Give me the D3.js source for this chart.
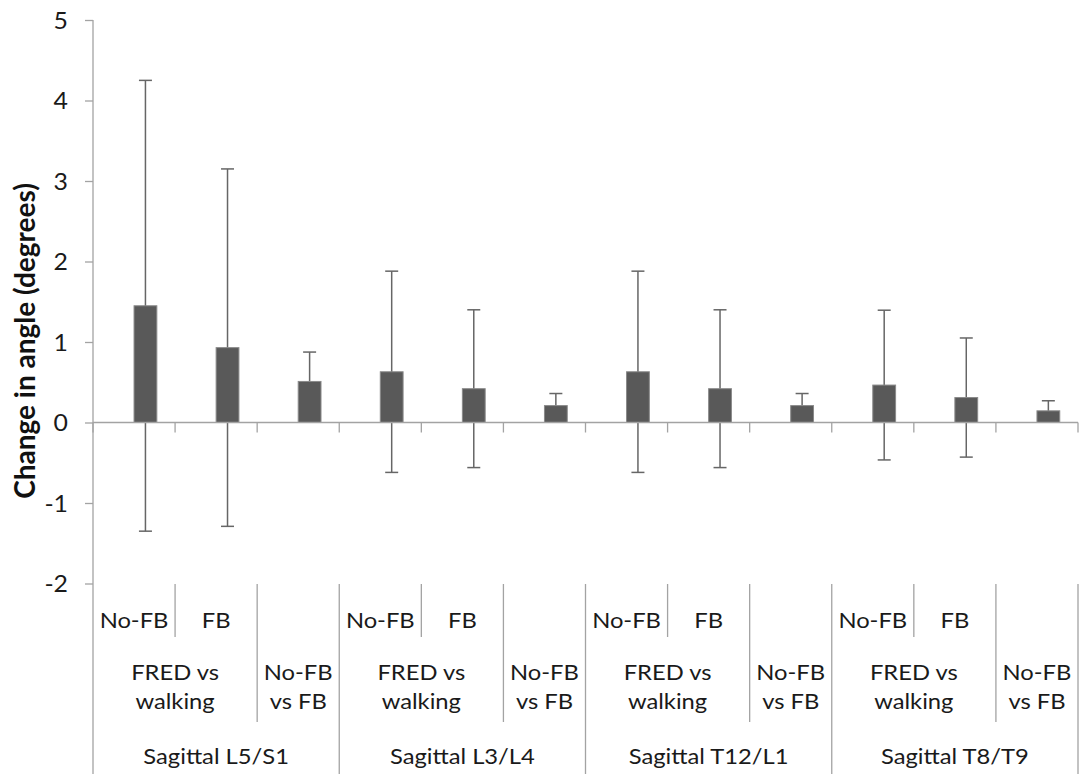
<!DOCTYPE html>
<html>
<head>
<meta charset="utf-8">
<script src="https://cdn.jsdelivr.net/npm/d3@7"></script>
<style>
  html, body { margin: 0; padding: 0; background: #fff; }
  svg { display: block; }
</style>
</head>
<body>
<div id="chart"></div>
<script>
// Spinal segments (outer category level)
const regions = ["Sagittal L5/S1", "Sagittal L3/L4", "Sagittal T12/L1", "Sagittal T8/T9"];
// Comparisons within each segment (middle level, two text lines each)
const comparisonLabels = [["FRED vs", "walking"], ["No-FB", "vs FB"]];
// Conditions inside each comparison (inner level)
const conditionLabels = [["No-FB", "FB"], [""]];
// Mean change in angle (degrees), one per bar, in reading order
const meanChange = [1.45, 0.93, 0.51, 0.63, 0.42, 0.21, 0.63, 0.42, 0.21, 0.465, 0.31, 0.145];
// Error bar half-length (degrees)
const errChange = [2.80, 2.22, 0.365, 1.25, 0.98, 0.15, 1.25, 0.98, 0.15, 0.93, 0.74, 0.125];
const yTicks = [-2, -1, 0, 1, 2, 3, 4, 5];
const yTitle = "Change in angle (degrees)";

const W = 1085, H = 774;
const FONT = "Lato, 'Open Sans', sans-serif";
const FS = 22;      // label font size
const SX = 1.08;    // horizontal text stretch
const AXIS = "#a3a3a3";
const TEXT = "#1a1a1a";

// flatten hierarchy into one category list
const cats = [];
regions.forEach((r, ri) => {
  comparisonLabels.forEach((c, ci) => {
    conditionLabels[ci].forEach((k, ki) => {
      cats.push({ id: `${ri}-${ci}-${ki}`, ri, ci, ki, cond: k });
    });
  });
});
cats.forEach((d, i) => { d.mean = meanChange[i]; d.err = errChange[i]; });

const svg = d3.select("#chart").append("svg").attr("width", W).attr("height", H);
svg.append("rect").attr("width", W).attr("height", H).attr("fill", "#fff");

const x = d3.scaleBand().domain(cats.map(d => d.id)).range([93, 1078]).padding(0);
const y = d3.scaleLinear().domain([-2, 5]).range([583.5, 20]);
// two series slots per category; only the second one carries values
const inner = d3.scaleBand().domain(["blank", "change"]).range([0, x.bandwidth()])
  .paddingInner(0).paddingOuter(0.8);
const bw = inner.bandwidth();
const cx = d => x(d.id) + inner("change") + bw / 2;

// y axis
const yAxis = d3.axisLeft(y).tickValues(yTicks).tickSize(8).tickPadding(0).tickFormat(d => String(d));
const gy = svg.append("g").attr("transform", "translate(93,0)").call(yAxis);
gy.select(".domain").remove();
gy.selectAll(".tick line").attr("stroke", AXIS).attr("stroke-width", 1.3);
gy.selectAll(".tick text")
  .attr("x", null).attr("dy", null)
  .attr("transform", `translate(-25,8) scale(${SX},1)`)
  .attr("text-anchor", "end")
  .attr("font-family", FONT).attr("font-size", 23).attr("fill", TEXT);

// vertical axis line, continuing down through the label area
svg.append("line").attr("x1", 93).attr("x2", 93).attr("y1", y(5)).attr("y2", H)
  .attr("stroke", AXIS).attr("stroke-width", 1.3);

// error bars (drawn beneath the bars)
const eb = svg.append("g").attr("stroke", "#666").attr("stroke-width", 1.5).attr("fill", "none");
cats.forEach(d => {
  const c = cx(d);
  eb.append("line").attr("x1", c).attr("x2", c).attr("y1", y(d.mean + d.err)).attr("y2", y(d.mean - d.err));
  [d.mean + d.err, d.mean - d.err].forEach(v => {
    eb.append("line").attr("x1", c - 6.5).attr("x2", c + 6.5).attr("y1", y(v)).attr("y2", y(v));
  });
});

// bars
svg.append("g").selectAll("rect").data(cats).join("rect")
  .attr("x", d => x(d.id) + inner("change"))
  .attr("width", bw)
  .attr("y", d => y(Math.max(0, d.mean)))
  .attr("height", d => Math.abs(y(d.mean) - y(0)))
  .attr("fill", "#595959")
  .attr("stroke", "#8a8a8a").attr("stroke-width", 1);

// x axis line and category tick marks
const bounds = cats.map(d => x(d.id)).concat([x.range()[1]]);
svg.append("line").attr("x1", 93).attr("x2", 1078).attr("y1", y(0)).attr("y2", y(0))
  .attr("stroke", AXIS).attr("stroke-width", 1.3);
svg.append("g").selectAll("line").data(bounds).join("line")
  .attr("x1", d => d).attr("x2", d => d).attr("y1", y(0)).attr("y2", y(0) + 10)
  .attr("stroke", AXIS).attr("stroke-width", 1.3);

// hierarchical label separators
const sepTop = 584;
const lab = svg.append("g");
cats.forEach((d, i) => {
  if (i === 0) return;
  const prev = cats[i - 1];
  let y2;
  if (prev.ri !== d.ri) y2 = H;
  else if (prev.ci !== d.ci) y2 = 722;
  else y2 = 637;
  lab.append("line").attr("x1", x(d.id)).attr("x2", x(d.id)).attr("y1", sepTop).attr("y2", y2)
    .attr("stroke", AXIS).attr("stroke-width", 1.3);
});
lab.append("line").attr("x1", 1078).attr("x2", 1078).attr("y1", sepTop).attr("y2", H)
  .attr("stroke", AXIS).attr("stroke-width", 1.3);

function label(txt, px, py) {
  lab.append("text")
    .attr("transform", `translate(${px},${py}) scale(${SX},1)`)
    .attr("text-anchor", "middle")
    .attr("font-family", FONT).attr("font-size", FS).attr("fill", TEXT)
    .text(txt);
}

// inner level: condition names
cats.forEach(d => { if (d.cond) label(d.cond, x(d.id) + x.bandwidth() / 2, 628); });

// middle and outer levels
d3.groups(cats, d => d.ri, d => d.ci).forEach(([ri, comps]) => {
  comps.forEach(([ci, members]) => {
    const x0 = x(members[0].id), x1 = x(members[members.length - 1].id) + x.bandwidth();
    const mid = (x0 + x1) / 2;
    label(comparisonLabels[ci][0], mid, 680);
    label(comparisonLabels[ci][1], mid, 709);
  });
  const all = cats.filter(d => d.ri === ri);
  const g0 = x(all[0].id), g1 = x(all[all.length - 1].id) + x.bandwidth();
  label(regions[ri], (g0 + g1) / 2, 764);
});

// y axis title
svg.append("text")
  .attr("transform", "translate(35,341) rotate(-90)")
  .attr("text-anchor", "middle")
  .attr("font-family", FONT).attr("font-size", 28).attr("font-weight", "bold").attr("fill", "#111")
  .text(yTitle);
</script>
</body>
</html>
